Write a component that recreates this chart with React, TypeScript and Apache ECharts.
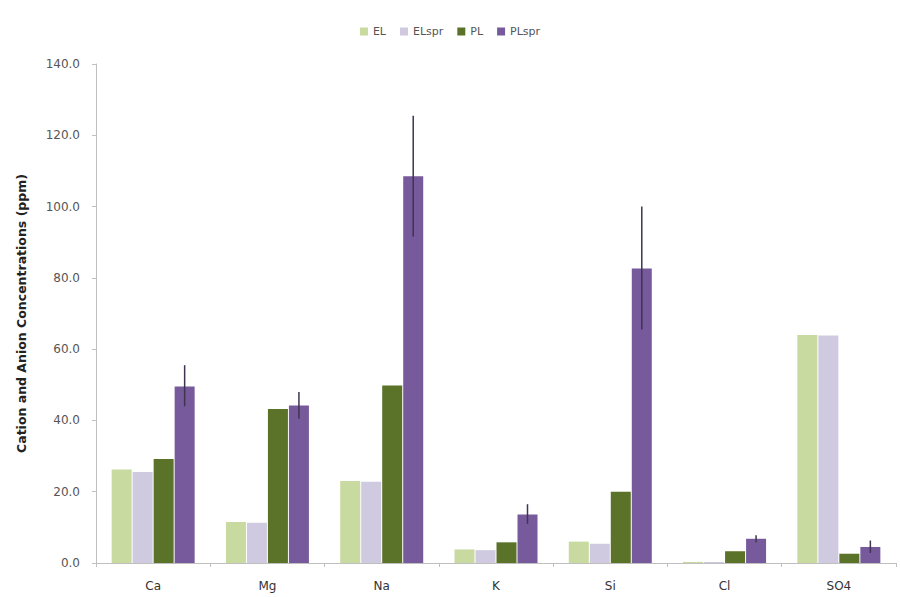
import React, { useEffect, useRef } from "react";
import * as echarts from "echarts";

const categories = ["Ca", "Mg", "Na", "K", "Si", "Cl", "SO4"];
const seriesNames = ["EL", "ELspr", "PL", "PLspr"];
const elValues = [26.2, 11.5, 23.0, 3.8, 6.0, 0.3, 64.0];
const elsprValues = [25.5, 11.3, 22.8, 3.6, 5.4, 0.3, 63.8];
const plValues = [29.2, 43.2, 49.8, 5.8, 20.0, 3.3, 2.6];
const plsprValues = [49.5, 44.2, 108.5, 13.6, 82.6, 6.8, 4.5];
const plsprErrLow = [44.0, 40.5, 91.5, 11.0, 65.5, 5.8, 2.8];
const plsprErrHigh = [55.5, 48.0, 125.5, 16.5, 100.0, 7.8, 6.3];
const yTicks = [0, 20, 40, 60, 80, 100, 120, 140];

const colors = ["#c8daa0", "#cfcadf", "#5b7229", "#775a9b"];

export default function App() {
  const ref = useRef<HTMLDivElement>(null);
  useEffect(() => {
    if (!ref.current) return;
    const chart = echarts.init(ref.current, undefined, { renderer: "svg" });
    const barWidth = 20;
    const gapPx = 1;
    const errOffset = (barWidth + gapPx) * 1.5;
    const font = "'DejaVu Sans', 'Open Sans', sans-serif";
    const valueSeries = [elValues, elsprValues, plValues, plsprValues];
    chart.setOption({
      animation: false,
      color: colors,
      textStyle: { fontFamily: font },
      legend: {
        data: seriesNames,
        top: 21,
        left: "center",
        itemWidth: 8,
        itemHeight: 8,
        itemGap: 14,
        icon: "rect",
        textStyle: { fontSize: 11, color: "#555", fontFamily: font },
      },
      grid: { left: 96, right: 4, top: 64, bottom: 34, containLabel: false },
      xAxis: {
        type: "category",
        data: categories,
        axisLine: { lineStyle: { color: "#bfbfbf", width: 1 } },
        axisTick: { show: true, length: 4, lineStyle: { color: "#bfbfbf" } },
        axisLabel: { fontSize: 12, color: "#333", margin: 17, fontFamily: font },
      },
      yAxis: {
        type: "value",
        min: yTicks[0],
        max: yTicks[yTicks.length - 1],
        interval: 20,
        name: "Cation and Anion Concentrations (ppm)",
        nameLocation: "middle",
        nameGap: 68,
        nameTextStyle: { fontSize: 12.5, fontWeight: "bold", color: "#222", fontFamily: font },
        axisLine: { show: true, lineStyle: { color: "#bfbfbf", width: 1 } },
        axisTick: { show: true, length: 4, lineStyle: { color: "#bfbfbf" } },
        splitLine: { show: false },
        axisLabel: {
          fontSize: 12,
          color: "#555",
          margin: 16,
          fontFamily: font,
          formatter: (v: number) => v.toFixed(1),
        },
      },
      series: [
        ...seriesNames.map((name, i) => ({
          name,
          type: "bar",
          data: valueSeries[i],
          barWidth,
          barGap: "5%",
          barCategoryGap: "27%",
          itemStyle: { color: colors[i] },
        })),
        {
          name: "PLspr error",
          type: "custom",
          z: 5,
          data: categories.map((_, i) => [i, plsprErrLow[i], plsprErrHigh[i]]),
          renderItem: (params: any, api: any) => {
            const idx = api.value(0);
            const lo = api.coord([idx, api.value(1)]);
            const hi = api.coord([idx, api.value(2)]);
            const x = lo[0] + errOffset;
            return {
              type: "line",
              shape: { x1: x, y1: lo[1], x2: x, y2: hi[1] },
              style: { stroke: "#3f3550", lineWidth: 1.5 },
            };
          },
          tooltip: { show: false },
        },
      ],
    });
    return () => chart.dispose();
  }, []);
  return <div ref={ref} style={{ width: 900, height: 597, position: "absolute", left: 0, top: 0 }} />;
}
